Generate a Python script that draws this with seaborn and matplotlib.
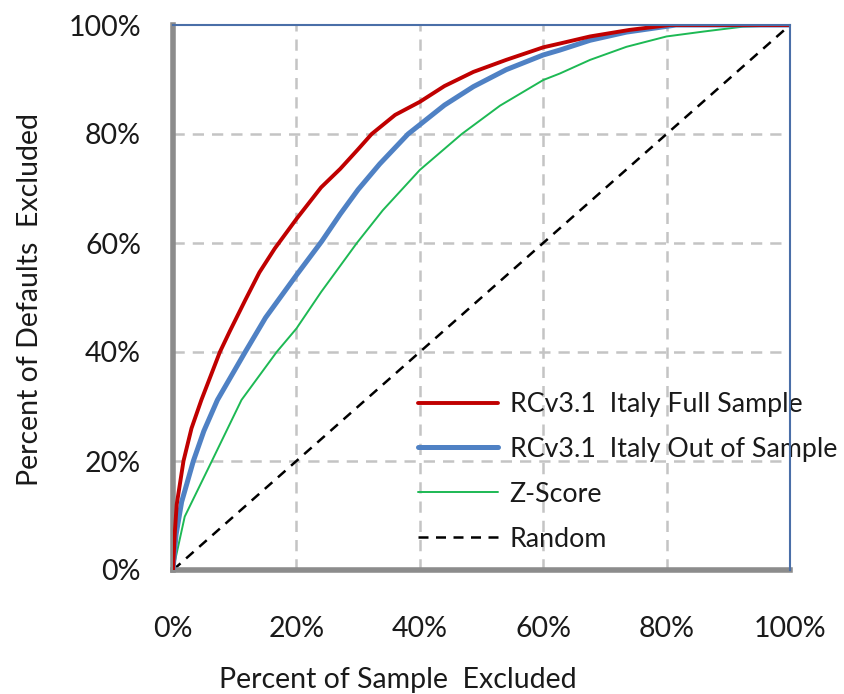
import matplotlib
matplotlib.use("Agg")
import matplotlib.pyplot as plt
import seaborn as sns
from matplotlib.ticker import PercentFormatter

# Cumulative accuracy profile data (percent of sample excluded vs percent of defaults excluded)
full_x = [0, 0.3, 0.6, 1.7, 3.0, 4.6, 7.6, 9.2, 11.7, 14.0, 16.5, 20.0, 24.0, 27.1, 30.0, 32.2,
          36.0, 40.0, 44.0, 48.7, 54.0, 60.0, 62.7, 67.6, 74.0, 80.5, 100]
full_y = [0, 7.0, 12.0, 20.0, 26.0, 31.2, 40.0, 43.8, 49.5, 54.6, 59.0, 64.4, 70.2, 73.6, 77.2, 80.0,
          83.5, 85.9, 88.8, 91.4, 93.6, 95.9, 96.6, 97.9, 99.1, 100, 100]

oos_x = [0, 0.5, 1.4, 3.3, 5.0, 7.2, 11.7, 15.0, 20.0, 24.1, 27.1, 30.0, 33.5, 38.1, 40.0,
         44.0, 48.7, 54.0, 60.0, 62.7, 67.6, 73.5, 81.5, 100]
oos_y = [0, 6.5, 12.5, 20.0, 25.5, 31.2, 40.0, 46.3, 54.1, 60.3, 65.3, 69.8, 74.5, 80.0, 81.7,
         85.3, 88.7, 91.8, 94.5, 95.4, 97.2, 98.7, 100, 100]

z_x = [0, 1.9, 6.3, 11.1, 16.8, 20.0, 24.0, 29.8, 34.0, 40.0, 46.8, 53.0, 60.0, 62.7,
       67.6, 73.5, 80.0, 86.0, 92.4, 100]
z_y = [0, 9.8, 20.0, 31.2, 40.0, 44.3, 51.0, 60.0, 66.0, 73.4, 80.0, 85.2, 89.9, 91.1,
       93.6, 96.0, 97.9, 98.8, 99.7, 100]

rand_x = [0, 100]
rand_y = [0, 100]

series_names = ["RCv3.1  Italy Full Sample", "RCv3.1  Italy Out of Sample", "Z-Score", "Random"]
tick_vals = [0, 20, 40, 60, 80, 100]

sns.set_theme(style="white")
plt.rcParams["font.family"] = ["Lato", "DejaVu Sans"]

FS = 20.5
LEG_FS = 19.3
W, H = 844, 694
fig = plt.figure(figsize=(W / 100, H / 100), dpi=100)
x0, x1, y0, y1 = 173, 790, 25, 570
ax = fig.add_axes([x0 / W, 1 - y1 / H, (x1 - x0) / W, (y1 - y0) / H])

grid_kw = dict(color="#c4c4c4", lw=1.8, dashes=(4.5, 3.2), zorder=0)
for v in tick_vals[1:-1]:
    ax.axvline(v, **grid_kw)
    ax.axhline(v, **grid_kw)

sns.lineplot(x=rand_x, y=rand_y, ax=ax, color="black", lw=1.8,
             estimator=None, sort=False, label=series_names[3], zorder=2)
ax.lines[-1].set_dashes((4.0, 3.0))
sns.lineplot(x=z_x, y=z_y, ax=ax, color="#1db954", lw=1.4, estimator=None, sort=False,
             label=series_names[2], zorder=3)
sns.lineplot(x=oos_x, y=oos_y, ax=ax, color="#4f81c4", lw=3.6, estimator=None, sort=False,
             label=series_names[1], zorder=4)
sns.lineplot(x=full_x, y=full_y, ax=ax, color="#c00000", lw=2.8, estimator=None, sort=False,
             label=series_names[0], zorder=5)

ax.set_xlim(0, 100)
ax.set_ylim(0, 100)
ax.set_xticks(tick_vals)
ax.set_yticks(tick_vals)
ax.xaxis.set_major_formatter(PercentFormatter(decimals=0))
ax.yaxis.set_major_formatter(PercentFormatter(decimals=0))
ax.tick_params(axis="both", which="major", direction="out", length=7, width=1.6,
               color="#8c8c8c", labelsize=FS, labelcolor="#1a1a1a")
ax.tick_params(axis="x", pad=26)
ax.tick_params(axis="y", pad=16)

for side in ("left", "bottom"):
    ax.spines[side].set_color("#8c8c8c")
    ax.spines[side].set_linewidth(4.0)
for side in ("top", "right"):
    ax.spines[side].set_color("#4a6fa8")
    ax.spines[side].set_linewidth(1.5)
    ax.spines[side].set_zorder(6)

handles, labels = ax.get_legend_handles_labels()
order = [labels.index(n) for n in series_names]
leg = ax.legend([handles[i] for i in order], [labels[i] for i in order],
                loc="upper left", bbox_to_anchor=(418 / W, 1 - 392 / H),
                bbox_transform=fig.transFigure, frameon=False, fontsize=LEG_FS,
                handlelength=3.0, handletextpad=0.42, labelspacing=0.74,
                borderpad=0, borderaxespad=0)
for t in leg.get_texts():
    t.set_color("#1a1a1a")

fig.text(398 / W, 1 - 680 / H, "Percent of Sample  Excluded", ha="center", va="center",
         fontsize=FS, color="#1a1a1a")
fig.text(30 / W, 1 - 300 / H, "Percent of Defaults  Excluded", ha="center", va="center",
         rotation=90, fontsize=FS, color="#1a1a1a")

fig.savefig("out.png", dpi=100)
